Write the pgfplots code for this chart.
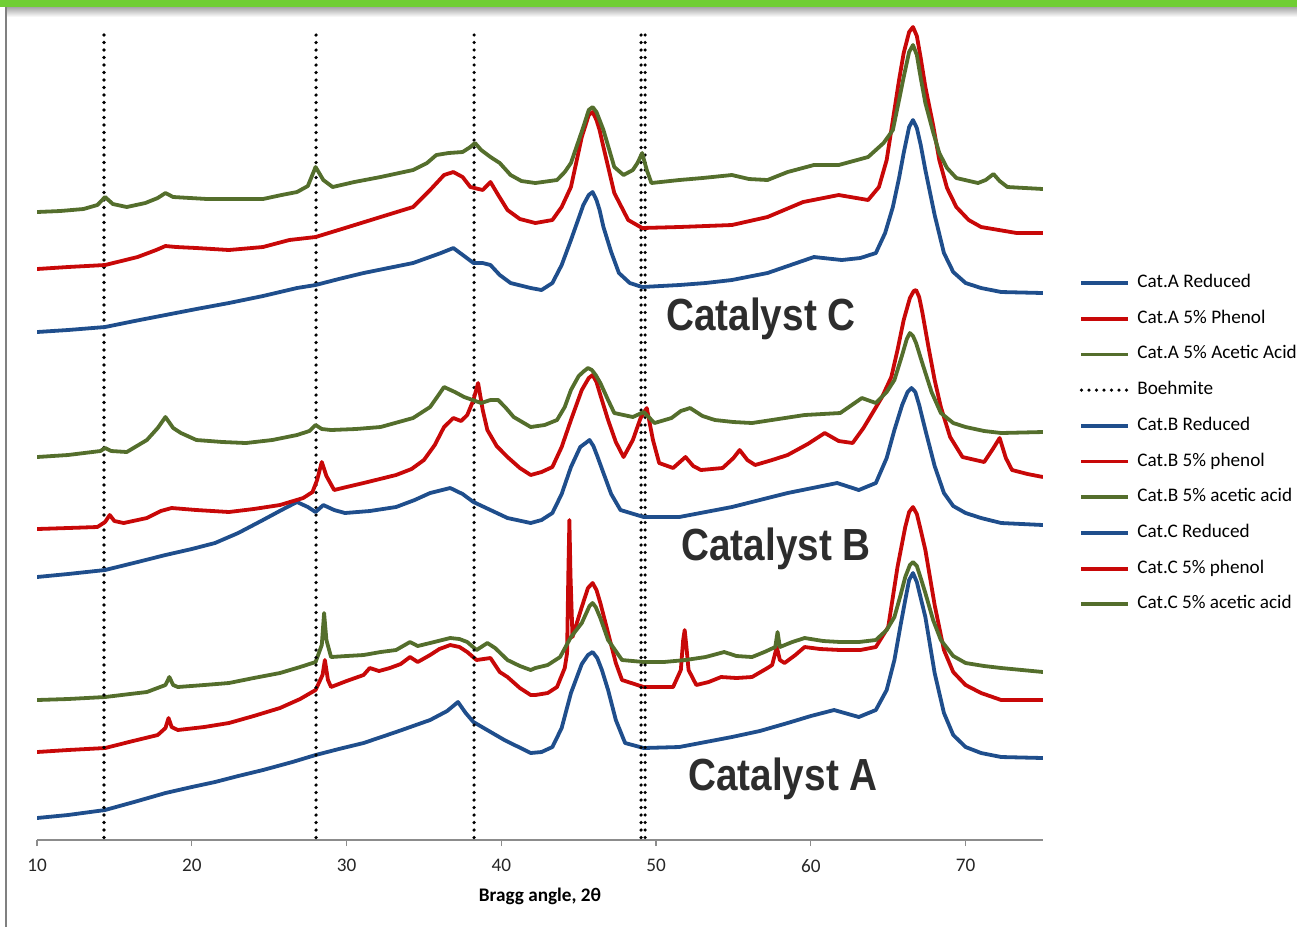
\documentclass[border=0pt]{standalone}
\usepackage{pgfplots}
\pgfplotsset{compat=1.18}
\usepackage{fontspec}
\setmainfont{Carlito}
\newfontfamily\catfont[FakeStretch=0.86]{Liberation Sans}

\definecolor{xblue}{RGB}{31,78,140}
\definecolor{xred}{RGB}{200,8,8}
\definecolor{xgreen}{RGB}{84,110,44}
\definecolor{labgray}{RGB}{45,45,45}
\definecolor{bargreen}{RGB}{112,206,52}

\begin{document}
\begin{tikzpicture}[x=0.5pt,y=-0.5pt]
% page frame: green bar, shadow, left rule
\useasboundingbox (0,0) rectangle (1297,927);
\fill[bargreen] (0,0) rectangle (1297,7);
\shade[top color=black!35, bottom color=white] (7,7) rectangle (1297,17);
\fill[black!50] (5,7) rectangle (7,927);

\begin{axis}[
    at={(18.5pt,-420pt)}, anchor=south west,
    scale only axis,
    width=503pt, height=410pt,
    xmin=10, xmax=75,
    ymin=20, ymax=840,
    y dir=reverse,
    axis x line*=bottom,
    axis y line=none,
    axis line style={black!45, line width=0.7pt},
    xtick={10,20,...,70},
    tick align=outside,
    major tick length=3pt,
    tick style={black!45, line width=0.6pt},
    xticklabel style={font=\fontsize{9.6}{11}\selectfont, text=black!85, yshift=-3pt},
    /pgf/number format/assume math mode=true,
    xlabel={\bfseries Bragg angle, 2θ},
    xlabel style={font=\fontsize{9.6}{11}\selectfont, at={(axis description cs:0.5,0)}, anchor=center, yshift=-28pt},
    legend style={at={(1.0300,0.6950)}, anchor=north west, draw=none, fill=none,
        font=\fontsize{9.6}{11}\selectfont,
        nodes={inner sep=0pt, text height=6.5pt, text depth=2pt},
        row sep=9.35pt,
        /tikz/every odd column/.append style={column sep=3.5pt}},
    legend cell align=left,
    legend image code/.code={\draw[#1] (0pt,0pt) -- (23.5pt,0pt);},
    every axis plot/.append style={line width=1.9pt, line join=round},
]

% Cat.A (bottom group)
\addplot[xblue] coordinates {
(10,818)(12,815)(14.4,810)(16.5,801)(18.3,793)(20,787)(21.5,782)(23,776)(24.6,770)(26.5,762)(28.0,755)(29.5,749)(31.1,743)(33.2,732)(35.4,720)(36.5,711)(37.2,702)(37.7,713)(38.2,722)(39.2,731)(40.2,740)(41.9,753)(42.6,752)(43.3,747)(43.9,728)(44.5,693)(45.2,664)(45.6,655)(45.9,652)(46.2,658)(46.5,670)(46.9,690)(47.4,720)(48.0,743)(49.2,748)(51.5,747)(53.2,742)(54.9,737)(56.7,731)(58.5,723)(60.0,716)(61.5,710)(63.1,717)(64.2,710)(64.9,690)(65.4,660)(65.8,625)(66.1,600)(66.35,580)(66.6,573)(66.85,582)(67.1,598)(67.4,617)(68.0,673)(68.6,713)(69.2,735)(70.0,747)(71.0,753)(72.3,757)(75,758)};
\addlegendentry{Cat.A Reduced}
\addplot[xred] coordinates {
(10,752)(12,750)(14.4,748)(16.2,741)(17.8,735)(18.3,728)(18.5,718)(18.7,727)(19.1,730)(20.8,727)(22.4,723)(24.0,716)(25.7,708)(27.0,699)(28.0,690)(28.45,675)(28.6,660)(28.8,680)(29.0,687)(30.0,681)(31.1,675)(31.5,668)(32.1,671)(32.8,668)(33.5,664)(34.1,657)(34.6,662)(35.4,655)(36.0,649)(36.7,645)(37.3,647)(37.8,652)(38.4,660)(39.3,658)(39.9,672)(40.4,677)(41.2,688)(41.9,695)(42.2,695)(43.0,693)(43.6,687)(44.1,668)(44.25,653)(44.33,575)(44.4,520)(44.47,575)(44.6,637)(45.2,607)(45.6,588)(45.9,583)(46.15,590)(46.4,603)(46.9,633)(47.4,663)(47.8,680)(49.2,687)(51.1,687)(51.6,670)(51.75,640)(51.85,630)(51.95,645)(52.1,670)(52.6,685)(53.4,682)(54.2,677)(55.2,678)(56.2,677)(57.2,668)(57.5,665)(57.8,647)(58.0,660)(58.3,663)(59.0,655)(59.6,647)(60.6,649)(61.9,650)(63.2,650)(64.2,647)(65.0,627)(65.6,567)(66.1,527)(66.35,512)(66.6,507)(66.85,514)(67.1,530)(67.4,550)(68.0,605)(68.6,650)(69.2,672)(70.0,685)(71.0,693)(72.3,700)(75,700)};
\addlegendentry{Cat.A 5\% Phenol}
\addplot[xgreen] coordinates {
(10,700)(12,699)(14.4,697)(16,694)(17.1,692)(18.3,685)(18.55,677)(18.8,685)(19.1,687)(20.8,685)(22.4,683)(24.0,678)(25.7,673)(27.0,667)(28.0,662)(28.4,645)(28.55,613)(28.7,640)(29.0,657)(30.0,656)(31.1,655)(32.2,652)(33.2,650)(34.1,642)(34.6,646)(35.4,643)(36.7,638)(37.3,639)(37.8,642)(38.4,650)(39.1,643)(39.6,648)(40.4,660)(41.2,666)(41.9,670)(42.2,668)(43.0,665)(43.8,657)(44.5,637)(45.2,623)(45.7,606)(45.9,603)(46.1,607)(46.4,618)(46.9,640)(47.8,660)(49.2,662)(50.5,662)(51.9,660)(53.2,657)(54.4,652)(55.2,656)(56.2,657)(57.0,652)(57.7,647)(57.85,632)(58.0,647)(58.8,642)(59.6,638)(60.8,641)(61.9,642)(63.1,642)(64.2,640)(64.9,630)(65.4,617)(65.8,595)(66.1,577)(66.4,565)(66.6,562)(66.85,566)(67.1,578)(67.4,593)(67.9,620)(68.4,640)(69.2,656)(70.0,663)(71.2,666)(72.3,668)(75,672)};
\addlegendentry{Cat.A 5\% Acetic Acid}

% Boehmite reference lines
\addplot[black, line width=1.8pt, line cap=round, dash pattern=on 0pt off 3.75pt] coordinates {(14.33,35)(14.33,840)};
\addlegendentry{Boehmite}
\addplot[forget plot, black, line width=1.8pt, line cap=round, dash pattern=on 0pt off 3.75pt] coordinates {(28.03,35)(28.03,840)};
\addplot[forget plot, black, line width=1.8pt, line cap=round, dash pattern=on 0pt off 3.75pt] coordinates {(38.24,35)(38.24,840)};
\addplot[forget plot, black, line width=1.8pt, line cap=round, dash pattern=on 0pt off 3.75pt] coordinates {(49.03,35)(49.03,840)};
\addplot[forget plot, black, line width=1.8pt, line cap=round, dash pattern=on 0pt off 3.75pt] coordinates {(49.29,35)(49.29,840)};

% Cat.B (middle group)
\addplot[xblue] coordinates {
(10,577)(12,574)(14.4,570)(16.5,562)(18.3,555)(20,549)(21.5,543)(23,533)(24.6,520)(25.8,510)(26.8,502)(27.5,507)(28.0,512)(28.5,505)(29.2,510)(29.9,513)(31.5,511)(33.2,507)(34.4,500)(35.4,493)(36.7,488)(37.5,494)(38.2,502)(39.3,510)(40.4,518)(41.9,523)(42.6,520)(43.3,513)(43.9,494)(44.5,467)(45.1,447)(45.45,443)(45.7,440)(45.95,446)(46.2,456)(46.6,473)(47.1,494)(47.7,510)(49.2,517)(51.5,517)(53.2,512)(54.9,507)(56.7,500)(58.5,493)(60.1,488)(61.7,483)(63.1,490)(64.2,483)(64.9,458)(65.4,430)(65.9,405)(66.25,392)(66.5,388)(66.75,392)(67.0,405)(67.4,430)(68.0,466)(68.6,493)(69.2,506)(70.0,513)(71.0,518)(72.3,523)(75,525)};
\addlegendentry{Cat.B Reduced}
\addplot[xred] coordinates {
(10,529)(12,528)(13.9,527)(14.4,522)(14.7,515)(15.0,521)(15.6,523)(17.1,518)(18.0,511)(18.7,508)(20.3,510)(22.4,512)(24.0,509)(25.7,505)(27.2,498)(27.8,492)(28.1,480)(28.4,462)(28.7,476)(29.2,490)(30.0,487)(31.1,483)(33.2,475)(34.2,469)(35.0,460)(35.7,445)(36.3,427)(36.9,418)(37.4,421)(37.8,415)(38.2,400)(38.5,383)(38.8,410)(39.1,430)(39.7,446)(40.4,457)(41.2,468)(41.9,475)(42.6,472)(43.3,467)(43.9,447)(44.5,420)(45.2,390)(45.65,378)(45.9,375)(46.15,382)(46.4,395)(46.9,420)(47.4,442)(47.9,457)(48.5,440)(49.0,418)(49.4,408)(49.8,440)(50.2,463)(51.1,468)(51.9,457)(52.4,466)(52.9,470)(54.3,468)(55.0,458)(55.4,450)(55.9,460)(56.4,465)(57.5,460)(58.5,455)(59.8,444)(60.9,433)(61.8,441)(62.7,443)(63.4,428)(64.1,410)(64.6,397)(65.2,377)(65.6,350)(66.0,320)(66.4,298)(66.65,291)(66.8,290)(67.0,297)(67.2,312)(67.6,347)(68.0,380)(68.4,407)(69.0,437)(69.8,457)(71.2,462)(71.8,448)(72.2,438)(72.6,458)(73.0,470)(74,474)(75,477)};
\addlegendentry{Cat.B 5\% phenol}
\addplot[xgreen] coordinates {
(10,457)(12,455)(14.1,451)(14.4,448)(14.8,451)(15.8,452)(17.1,440)(17.8,428)(18.3,417)(18.8,428)(19.3,433)(20.3,440)(22.0,442)(23.5,443)(25.2,440)(26.8,435)(27.6,431)(28.0,425)(28.4,429)(29.0,430)(30.6,429)(32.2,427)(34.3,418)(35.4,407)(35.9,396)(36.3,387)(37.0,392)(37.6,397)(38.7,403)(39.3,400)(39.8,400)(40.3,408)(40.8,417)(41.9,427)(42.8,425)(43.6,420)(44.1,407)(44.5,390)(45.0,376)(45.35,371)(45.6,368)(45.85,370)(46.1,375)(46.4,383)(46.9,400)(47.3,413)(48.5,417)(49.2,412)(49.9,423)(51.0,418)(51.6,411)(52.2,408)(53.0,416)(53.8,420)(55.0,422)(56.2,423)(57.9,419)(59.6,415)(61.9,413)(63.3,398)(64.2,403)(64.9,392)(65.4,380)(65.9,355)(66.2,339)(66.4,333)(66.6,336)(66.8,343)(67.2,363)(67.8,392)(68.4,413)(69.2,423)(70.0,427)(71.2,431)(72.3,433)(75,432)};
\addlegendentry{Cat.B 5\% acetic acid}

% Cat.C (top group)
\addplot[xblue] coordinates {
(10,332)(12,330)(14.4,327)(16.3,321)(18.3,315)(20.3,309)(22.4,303)(24.6,296)(26.8,288)(28.0,285)(29.5,279)(31.1,273)(32.7,268)(34.3,263)(35.2,258)(36.1,253)(36.9,248)(37.6,256)(38.2,263)(38.8,263)(39.3,265)(39.9,275)(40.6,283)(41.9,288)(42.6,290)(43.3,283)(43.9,265)(44.5,240)(45.3,205)(45.65,195)(45.9,192)(46.15,200)(46.35,210)(46.6,227)(47.1,252)(47.6,273)(48.3,283)(49.1,287)(51.5,285)(53.2,283)(54.9,280)(57.2,273)(58.7,265)(60.2,257)(62.0,260)(63.2,258)(64.2,253)(64.8,233)(65.3,207)(65.7,178)(66.0,153)(66.35,127)(66.6,120)(66.85,128)(67.1,145)(67.4,170)(68.0,215)(68.6,253)(69.2,272)(70.0,283)(71.0,288)(72.3,292)(75,293)};
\addlegendentry{Cat.C Reduced}
\addplot[xred] coordinates {
(10,269)(12,267)(14.4,265)(16.5,257)(17.7,250)(18.3,246)(19,247)(20.3,248)(22.4,250)(24.6,247)(26.3,240)(28.0,237)(29.9,228)(32.2,217)(34.3,207)(35.4,190)(36.3,175)(36.9,172)(37.5,177)(38.0,187)(38.8,190)(39.3,182)(39.8,195)(40.4,210)(41.2,219)(42.2,223)(43.3,220)(43.9,207)(44.5,187)(45.2,137)(45.65,115)(45.9,112)(46.15,120)(46.35,130)(46.6,147)(47.3,193)(48.2,220)(49.1,228)(51.5,227)(54.9,225)(57.2,217)(59.5,202)(61.8,195)(63.7,200)(64.4,187)(64.9,160)(65.3,120)(65.7,80)(66.0,53)(66.35,32)(66.6,27)(66.85,36)(67.1,58)(67.4,87)(67.9,125)(68.3,160)(68.8,188)(69.4,207)(70.2,220)(71.0,227)(73.3,233)(75,233)};
\addlegendentry{Cat.C 5\% phenol}
\addplot[xgreen] coordinates {
(10,212)(11.5,211)(13,209)(13.9,205)(14.4,197)(14.9,204)(15.8,207)(17,203)(17.8,198)(18.3,193)(18.8,197)(19.9,198)(21,199)(22.5,199)(24.6,199)(25.8,195)(26.8,192)(27.5,186)(28.0,167)(28.5,180)(29.1,187)(30.5,182)(32.2,177)(34.3,170)(35.2,163)(35.8,155)(36.6,153)(37.5,152)(38.0,147)(38.3,143)(38.7,150)(39.3,157)(39.9,163)(40.6,175)(41.3,181)(42.2,183)(43.6,180)(44.1,172)(44.5,163)(45.3,127)(45.65,110)(45.9,107)(46.15,112)(46.6,130)(47.3,167)(47.9,175)(48.5,170)(48.8,163)(49.1,153)(49.4,170)(49.7,183)(51.5,180)(53,178)(54.9,175)(56,179)(57.2,180)(58.5,172)(60.2,165)(61.8,165)(63.7,157)(64.7,143)(65.3,130)(65.7,100)(66.0,77)(66.35,52)(66.6,45)(66.85,55)(67.1,78)(67.4,103)(67.9,132)(68.3,153)(68.8,168)(69.4,178)(70.8,183)(71.3,180)(71.8,174)(72.2,181)(72.7,187)(75,189)};
\addlegendentry{Cat.C 5\% acetic acid}

% group labels
\node[anchor=base, text=labgray, font=\catfont\bfseries\fontsize{22.5}{26}\selectfont] at (axis cs:56.78,330) {Catalyst C};
\node[anchor=base, text=labgray, font=\catfont\bfseries\fontsize{22.5}{26}\selectfont] at (axis cs:57.75,560) {Catalyst B};
\node[anchor=base, text=labgray, font=\catfont\bfseries\fontsize{22.5}{26}\selectfont] at (axis cs:58.2,790) {Catalyst A};
\end{axis}
\end{tikzpicture}
\end{document}
